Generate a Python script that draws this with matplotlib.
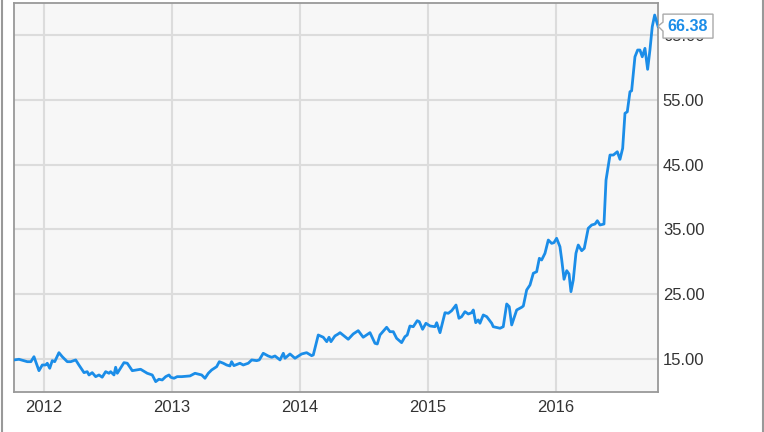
import matplotlib
matplotlib.use("Agg")
import matplotlib.pyplot as plt
from matplotlib.patches import Polygon
from matplotlib.lines import Line2D

# Decimal-year dates and closing prices
years = [2011.766, 2011.805, 2011.870, 2011.898, 2011.922, 2011.961, 2011.987, 2012.013,
         2012.026, 2012.045, 2012.065, 2012.084, 2012.117, 2012.143, 2012.182, 2012.209,
         2012.248, 2012.273, 2012.313, 2012.338, 2012.352, 2012.377, 2012.404, 2012.430,
         2012.455, 2012.482, 2012.508, 2012.521, 2012.547, 2012.560, 2012.573, 2012.625,
         2012.651, 2012.690, 2012.755, 2012.807, 2012.846, 2012.873, 2012.898, 2012.924,
         2012.951, 2012.977, 2012.990, 2013.016, 2013.041, 2013.076, 2013.141, 2013.180,
         2013.232, 2013.258, 2013.284, 2013.310, 2013.349, 2013.370, 2013.401, 2013.427,
         2013.453, 2013.466, 2013.484, 2013.531, 2013.557, 2013.596, 2013.623, 2013.662,
         2013.682, 2013.713, 2013.752, 2013.779, 2013.805, 2013.844, 2013.870, 2013.883,
         2013.922, 2013.961, 2014.013, 2014.052, 2014.091, 2014.104, 2014.143, 2014.182,
         2014.209, 2014.227, 2014.242, 2014.273, 2014.299, 2014.313, 2014.352, 2014.377,
         2014.416, 2014.455, 2014.494, 2014.547, 2014.586, 2014.604, 2014.625, 2014.677,
         2014.703, 2014.729, 2014.755, 2014.794, 2014.820, 2014.838, 2014.859, 2014.885,
         2014.916, 2014.932, 2014.958, 2014.984, 2015.016, 2015.055, 2015.068, 2015.094,
         2015.133, 2015.159, 2015.185, 2015.219, 2015.242, 2015.263, 2015.289, 2015.315,
         2015.341, 2015.354, 2015.373, 2015.393, 2015.406, 2015.432, 2015.459, 2015.498,
         2015.510, 2015.563, 2015.588, 2015.615, 2015.635, 2015.654, 2015.693, 2015.732,
         2015.745, 2015.771, 2015.797, 2015.823, 2015.849, 2015.870, 2015.888, 2015.914,
         2015.940, 2015.966, 2015.984, 2016.005, 2016.031, 2016.045, 2016.063, 2016.084,
         2016.102, 2016.117, 2016.135, 2016.156, 2016.174, 2016.201, 2016.221, 2016.252,
         2016.279, 2016.305, 2016.323, 2016.344, 2016.375, 2016.391, 2016.422, 2016.448,
         2016.479, 2016.500, 2016.521, 2016.539, 2016.557, 2016.578, 2016.591, 2016.617,
         2016.638, 2016.656, 2016.674, 2016.695, 2016.716, 2016.734, 2016.752, 2016.771,
         2016.787, 2016.797]
prices = [14.85, 14.95, 14.58, 14.58, 15.35, 13.19, 14.07, 14.07,
          14.34, 13.56, 14.74, 14.58, 15.97, 15.35, 14.58, 14.58,
          14.85, 14.07, 12.89, 13.04, 12.53, 12.89, 12.27, 12.53,
          12.18, 13.04, 12.79, 13.04, 12.53, 13.72, 12.79, 14.43,
          14.34, 13.19, 13.41, 12.79, 12.53, 11.50, 11.87, 11.76,
          12.27, 12.53, 12.18, 12.02, 12.27, 12.27, 12.38, 12.79,
          12.53, 12.02, 12.79, 13.30, 13.81, 14.58, 14.34, 14.07,
          13.92, 14.58, 13.97, 14.34, 14.07, 14.34, 14.85, 14.74,
          14.85, 15.88, 15.46, 15.26, 15.46, 14.85, 15.88, 15.11,
          15.77, 15.11, 15.77, 15.97, 15.51, 15.62, 18.70, 18.35,
          17.67, 18.35, 17.67, 18.55, 18.86, 19.06, 18.44, 18.04,
          18.86, 19.37, 18.35, 19.06, 17.42, 17.31, 18.70, 19.89,
          19.21, 19.21, 18.19, 17.52, 18.44, 18.70, 20.09, 19.98,
          20.91, 20.76, 19.58, 20.51, 20.09, 19.98, 20.60, 19.06,
          22.14, 22.05, 22.45, 23.33, 21.28, 21.53, 22.30, 21.94,
          22.14, 22.56, 20.60, 21.02, 20.51, 21.79, 21.53, 20.51,
          19.98, 19.74, 19.98, 23.49, 23.07, 20.25, 22.56, 22.98,
          23.18, 25.65, 26.42, 28.23, 28.47, 30.54, 30.28, 31.31,
          33.36, 32.85, 32.95, 33.63, 32.33, 30.28, 27.30, 28.63,
          28.12, 25.39, 27.19, 31.31, 32.59, 31.71, 32.08, 35.17,
          35.68, 35.83, 36.34, 35.68, 35.83, 42.62, 46.48, 46.48,
          46.99, 45.82, 47.52, 52.92, 53.16, 56.25, 56.40, 61.65,
          62.69, 62.69, 61.65, 62.95, 59.71, 62.69, 66.28, 68.09,
          67.05, 66.38]

x_ticks = [2012, 2013, 2014, 2015, 2016]
x_tick_labels = ["2012", "2013", "2014", "2015", "2016"]
y_ticks = [15, 25, 35, 45, 55, 65]
y_tick_labels = ["15.00", "25.00", "35.00", "45.00", "55.00", "65.00"]
last_label = "66.38"

W, H = 764, 432
plt.rcParams['font.family'] = ['Liberation Sans', 'DejaVu Sans']
fig = plt.figure(figsize=(W / 100, H / 100), dpi=100)
ax = fig.add_axes([14 / W, 1 - 392 / H, (658 - 14) / W, (392 - 3) / H])
ax.set_facecolor('#f7f7f7')

line_color = '#1b8de8'
ax.plot(years, prices, color=line_color, lw=2.0, solid_joinstyle='round', zorder=3)

ax.set_xlim(2011.766, years[-1])
ax.set_ylim(9.9, 69.95)
ax.set_xticks(x_ticks)
ax.set_xticklabels(x_tick_labels)
ax.set_yticks(y_ticks)
ax.set_yticklabels(y_tick_labels)
ax.yaxis.tick_right()
ax.tick_params(axis='both', length=0, labelsize=12, labelcolor='#333333')
ax.tick_params(axis='y', pad=3.5)
ax.tick_params(axis='x', pad=6)
ax.grid(True, color='#dcdcdc', lw=1.5)
ax.set_axisbelow(True)
for side in ['left', 'top', 'right', 'bottom']:
    ax.spines[side].set_color('#999999')
    ax.spines[side].set_linewidth(1.3)

# Outer frame lines at left and right edge of image
fig.add_artist(Line2D([1.5 / W, 1.5 / W], [0, 1], transform=fig.transFigure, color='#999999', lw=1.5))
fig.add_artist(Line2D([(W - 1.5) / W, (W - 1.5) / W], [0, 1], transform=fig.transFigure, color='#999999', lw=1.5))

# Last-value callout box with pointer
fig.canvas.draw()
tx, ty = ax.transData.transform((years[-1], prices[-1]))
left = tx + 5
right = tx + 55
top = ty + 12
bottom = ty - 12
pts = [(left, top), (right, top), (right, bottom), (left, bottom),
       (left, ty - 5), (tx, ty), (left, ty + 4)]
fig_pts = [fig.transFigure.inverted().transform(p) for p in pts]
poly = Polygon(fig_pts, closed=True, transform=fig.transFigure, facecolor='white',
               edgecolor='#aaaaaa', lw=1.0, zorder=5)
fig.add_artist(poly)
cx, cy = fig.transFigure.inverted().transform(((left + right) / 2, ty))
fig.text(cx, cy, last_label, ha='center', va='center', fontsize=11.5, fontweight='bold',
         color=line_color, zorder=6)

fig.savefig('out.png', dpi=100)
